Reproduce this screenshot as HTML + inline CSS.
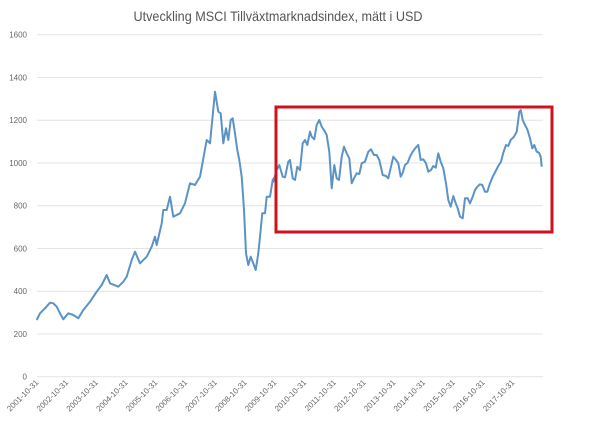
<!DOCTYPE html>
<html><head><meta charset="utf-8"><style>
html,body{margin:0;padding:0;background:#fff;}
svg{display:block;font-family:"Liberation Sans",sans-serif;}
</style></head><body>
<svg id="s" width="600" height="425" viewBox="0 0 600 425">
<text x="278" y="21" font-size="14" fill="#555" text-anchor="middle" textLength="289" lengthAdjust="spacingAndGlyphs">Utveckling MSCI Tillväxtmarknadsindex,  mätt i USD</text>
<g id="grid" stroke="#e4e4e4" stroke-width="1"></g>
<g id="yl" font-size="8" fill="#666" text-anchor="end"></g>
<g id="xl" font-size="8" fill="#666" text-anchor="end"></g>
<polyline id="line" fill="none" stroke="#5b93c7" stroke-width="2" stroke-linejoin="round"/>
<rect x="276" y="107" width="276" height="125" fill="none" stroke="#d0121b" stroke-width="3"/>
</svg>
<script>
var ns="http://www.w3.org/2000/svg";
function el(t,a,p,txt){var e=document.createElementNS(ns,t);for(var k in a)e.setAttribute(k,a[k]);if(txt)e.textContent=txt;document.getElementById(p).appendChild(e);}
for(var i=0;i<=8;i++){var y=376.7-i*42.75;
 el("line",{x1:37,x2:543,y1:y,y2:y},"grid");
 el("text",{x:27,y:y+3},"yl",String(i*200));}
for(var j=0;j<17;j++){var x=37+j*29.75;
 el("text",{x:x+2,y:383,transform:"rotate(-45 "+(x+2)+" 383)"},"xl",(2001+j)+"-10-31");}
var a=[[110,900],[120,880],[135,865],[150,848],[160,850],[170,860],[180,880],[190,898],[205,880],[220,885],[235,895],[250,870],[270,845],[290,815],[305,795],[320,765],[330,790],[355,800],[370,785],[380,770],[395,720],[405,695],[420,730],[440,710],[455,680],[465,650],[470,675],[485,610],[490,570],[500,570],[510,530],[520,590],[540,580],[555,550],[570,490],[585,495],[600,470],[620,360],[630,370],[645,215],[655,275],[662,280],[670,370],[678,325],[685,360],[692,300],[698,295],[705,340],[712,390],[718,420],[725,470],[732,570],[738,700],[745,735],[752,710],[760,730],[767,750],[775,700],[780,650],[787,580],[795,580],[800,530],[810,530],[818,480],[825,470]];
var b=[[10,275],[20,240],[28,225],[38,260],[45,262],[55,215],[60,210],[68,265],[75,270],[82,230],[90,240],[98,160],[105,150],[112,165],[120,125],[125,140],[133,148],[140,105],[148,90],[155,110],[165,125],[170,135],[178,185],[185,295],[193,225],[200,265],[207,270],[215,200],[222,170],[230,190],[238,205],[245,280],[252,265],[260,250],[268,252],[275,220],[285,215],[295,185],[303,178],[312,195],[320,195],[328,210],[338,255],[348,258],[355,265],[363,230],[370,200],[378,210],[385,220],[392,260],[398,248],[405,225],[413,218],[420,200],[428,185],[437,173],[445,165],[452,210],[460,208],[468,220],[475,245],[483,240],[490,228],[497,233],[505,190],[512,215],[520,235],[528,280],[535,330],[542,350],[550,318],[557,340],[563,355],[570,380],[578,385],[585,325],[593,325],[600,340],[608,320],[615,300],[622,290],[630,283],[637,285],[645,305],[652,305],[660,280],[668,260],[677,243],[685,228],[693,215],[700,188],[708,165],[715,168],[722,150],[732,140],[740,125],[748,65],[752,60],[758,90],[765,105],[772,118],[780,145],[787,175],[793,165],[800,185],[807,188],[812,200],[815,230]];
var pts=[];
a.forEach(function(p){pts.push((p[0]/3).toFixed(1)+","+(p[1]/3+20).toFixed(1));});
b.forEach(function(p){pts.push((p[0]/3+270).toFixed(1)+","+(p[1]/3+90).toFixed(1));});
document.getElementById("line").setAttribute("points",pts.join(" "));
</script>
</body></html>
